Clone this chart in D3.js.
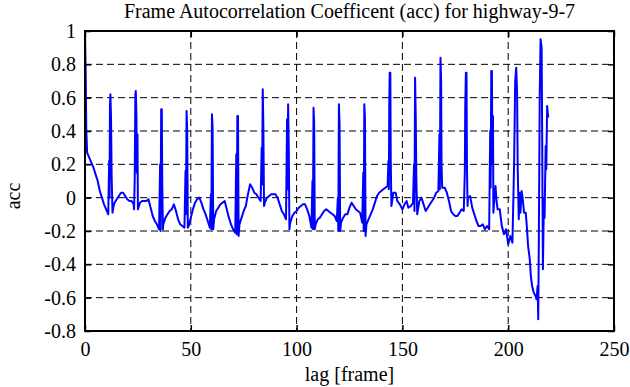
<!DOCTYPE html>
<html>
<head>
<meta charset="utf-8">
<script src="https://cdn.jsdelivr.net/npm/d3@7"></script>
<style>
  body { margin: 0; background: #fff; }
  text { font-family: "Liberation Serif", "Times New Roman", serif; fill: #000; }
</style>
</head>
<body>
<script>
// lag (frames) and autocorrelation
const lags = [
  0, 0.3, 0.6, 1, 2, 3, 4, 5, 6, 7, 8, 9, 10, 11,
  11.4, 11.6, 11.8, 12, 12.3, 12.6, 13,
  13.5, 14, 15, 16, 17, 18, 19, 20, 21, 22, 23, 23.2,
  23.5, 23.8, 24, 24.3, 24.5, 24.8, 25,
  26, 27, 28, 29, 30, 31, 32, 33, 34, 35,
  35.5, 35.7, 36, 36.3, 36.5, 36.8,
  37, 38, 39, 40, 41, 42, 43, 44, 45, 46, 47,
  47.5, 47.7, 48, 48.3, 48.6,
  49, 50, 51, 52, 53, 54, 55, 56, 57, 58, 59,
  59.5, 59.7, 60, 60.3, 60.6,
  61, 62, 63, 64, 65, 66, 67, 68, 69, 70, 71,
  71.5, 71.7, 72, 72.3, 72.6,
  73, 74, 75, 76, 77, 78, 79, 80, 81, 82, 83,
  83.5, 83.7, 84, 84.3, 84.6,
  85, 86, 87, 88, 89, 90, 91, 92, 93, 94, 95,
  95.5, 95.7, 96, 96.3, 96.6,
  97, 98, 99, 100, 101, 102, 103, 104, 105, 106, 107,
  107.5, 107.7, 108, 108.3, 108.6,
  109, 110, 111, 112, 113, 114, 115, 116, 117, 118, 119,
  119.5, 119.7, 120, 120.3, 120.6,
  121, 122, 123, 124, 125, 126, 127, 128, 129, 130, 131,
  131.5, 131.7, 132, 132.3, 132.6,
  133, 134, 135, 136, 137, 138, 139, 140, 141, 142, 143,
  143.4, 143.6, 143.8, 144, 144.3, 144.5, 144.8,
  145.7, 146.8, 147.6, 148.8, 150, 151, 152, 152.8, 154, 155,
  155.5, 155.7, 156, 156.3, 156.6, 157,
  158, 159, 160, 161, 162, 163, 164, 165, 166, 167,
  167.5, 167.7, 168, 168.3, 168.5, 168.8,
  169, 170, 171, 172, 173, 174, 175, 176, 177, 178, 179,
  179.5, 179.7, 180, 180.3, 180.5, 180.8,
  181, 182, 183, 184, 185, 186, 187, 188, 189, 190, 191,
  191.5, 191.7, 192, 192.3, 192.5, 192.8, 193,
  193.5, 194, 194.5, 195, 196, 197, 198, 199, 200, 201, 202,
  202.8, 203.3, 203.8, 204.2, 204.5, 205, 205.3, 205.8, 206.3, 206.8, 207.5, 208.3,
  208.9, 209.4, 210.2, 210.7, 211.3, 212.1, 212.9, 213.4, 213.9, 214.2,
  214.5, 214.9, 215.3, 215.8, 216.1, 216.4, 216.9, 217.2, 217.7, 218, 218.4, 218.9
];
const acc = [
  1.0, 0.77, 0.42, 0.27, 0.24, 0.21, 0.18, 0.14, 0.1, 0.04, 0.0, -0.04, -0.07, -0.1,
  0.22, 0.0, 0.55, 0.62, 0.48, 0.12, -0.09,
  -0.05, -0.03, -0.01, 0.01, 0.03, 0.03, 0.01, -0.01, -0.02, -0.02, -0.04, -0.07,
  0.12, 0.62, 0.64, 0.5, 0.15, 0.38, -0.07,
  -0.03, -0.02, -0.02, -0.02, -0.01, -0.06, -0.11, -0.14, -0.16, -0.19,
  0.2, -0.2, 0.53, 0.53, 0.1, -0.19,
  -0.16, -0.12, -0.1, -0.08, -0.07, -0.04, -0.08, -0.13, -0.16, -0.17, -0.18,
  0.16, -0.1, 0.52, 0.4, -0.18,
  -0.17, -0.12, -0.07, -0.03, -0.01, 0.0, -0.03, -0.07, -0.1, -0.14, -0.18,
  0.02, -0.19, 0.5, 0.42, -0.19,
  -0.13, -0.08, -0.06, -0.04, -0.03, -0.02, -0.07, -0.12, -0.16, -0.19, -0.21,
  0.26, -0.22, 0.49, 0.49, -0.23,
  -0.16, -0.12, -0.08, -0.05, 0.02, 0.08, 0.06, 0.03, 0.02, 0.0, -0.02,
  0.3, 0.08, 0.65, 0.42, -0.05,
  -0.03, 0.0, 0.01, 0.02, 0.02, 0.02, 0.0, -0.04, -0.08, -0.1, -0.13,
  0.47, 0.05, 0.56, 0.3, -0.19,
  -0.15, -0.11, -0.09, -0.08, -0.06, -0.05, -0.04, -0.04, -0.07, -0.11, -0.18,
  0.1, -0.19, 0.54, 0.45, -0.19,
  -0.16, -0.13, -0.12, -0.1, -0.08, -0.07, -0.08, -0.09, -0.1, -0.11, -0.14,
  0.0, -0.2, 0.56, 0.45, -0.2,
  -0.15, -0.12, -0.1, -0.1, -0.06, -0.03, -0.05, -0.07, -0.08, -0.09, -0.15,
  0.15, -0.2, 0.56, 0.48, -0.23,
  -0.16, -0.13, -0.1, -0.07, -0.03, 0.01, 0.03, 0.04, 0.05, 0.06, 0.07,
  0.22, 0.05, 0.57, 0.75, 0.75, 0.22, -0.05,
  0.03, 0.03, -0.02, -0.04, -0.07, -0.04, -0.02, -0.06, -0.05, -0.03,
  0.2, -0.08, 0.72, 0.49, 0.1, -0.1,
  -0.02, 0.0, -0.04, -0.08, -0.06, -0.04, -0.02, 0.0, 0.03, 0.04,
  0.38, 0.05, 0.84, 0.7, 0.2, 0.06,
  0.06, 0.06, 0.03, -0.02, -0.08, -0.1, -0.11, -0.11, -0.09, -0.07, -0.08,
  0.15, 0.55, 0.75, 0.75, 0.2, -0.05,
  0.0, 0.01, -0.06, -0.1, -0.14, -0.17, -0.17, -0.16, -0.19, -0.17, -0.19,
  0.4, 0.06, 0.76, 0.76, 0.2, 0.49, -0.09,
  0.0, 0.07, -0.02, -0.07, -0.07, -0.17, -0.22, -0.19, -0.28, -0.23, -0.27,
  0.21, 0.7, 0.78, 0.63, 0.17, -0.13, 0.03, -0.09, 0.04, 0.0, -0.09, -0.09,
  -0.19, -0.29, -0.37, -0.47, -0.53, -0.57, -0.59, -0.61, -0.53, -0.73,
  -0.21, 0.61, 0.95, 0.9, 0.27, -0.43, 0.0, -0.12, 0.31, 0.17, 0.55, 0.48
];
const xTicks = [0, 50, 100, 150, 200, 250];
const yTicks = [-0.8, -0.6, -0.4, -0.2, 0, 0.2, 0.4, 0.6, 0.8, 1];

const width = 630;
const height = 387;
const margin = { top: 31, right: 16, bottom: 56, left: 85 };
const plotW = width - margin.left - margin.right;
const plotH = height - margin.top - margin.bottom;

const points = lags.map((l, i) => [l, acc[i]]);

const x = d3.scaleLinear().domain([0, 250]).range([0, plotW]);
const y = d3.scaleLinear().domain([-0.8, 1]).range([plotH, 0]);

const svg = d3.select('body').append('svg')
  .attr('width', width)
  .attr('height', height);

svg.append('rect').attr('width', width).attr('height', height).attr('fill', '#fff');

const g = svg.append('g').attr('transform', `translate(${margin.left},${margin.top})`);

// dashed grid
g.append('g').selectAll('line')
  .data(xTicks.slice(1, -1))
  .join('line')
  .attr('x1', d => x(d)).attr('x2', d => x(d))
  .attr('y1', 0).attr('y2', plotH)
  .attr('stroke', '#000').attr('stroke-width', 1)
  .attr('stroke-dasharray', '7,4');

g.append('g').selectAll('line')
  .data(yTicks.slice(1, -1))
  .join('line')
  .attr('x1', 0).attr('x2', plotW)
  .attr('y1', d => y(d)).attr('y2', d => y(d))
  .attr('stroke', '#000').attr('stroke-width', 1)
  .attr('stroke-dasharray', '7,4');

// the series
g.append('path')
  .datum(points)
  .attr('fill', 'none')
  .attr('stroke', '#0000ff')
  .attr('stroke-width', 2)
  .attr('stroke-linejoin', 'round')
  .attr('d', d3.line().x(d => x(d[0])).y(d => y(d[1])));

// axes, ticks pointing inward like matlab
const fmt = d => String(d);
const styleAxis = sel => {
  sel.select('.domain').remove();
  sel.selectAll('.tick line').attr('stroke', '#000').attr('stroke-width', 1.5);
  sel.selectAll('.tick text')
    .style('font-family', '"Liberation Serif", "Times New Roman", serif')
    .style('font-size', '20px')
    .attr('fill', '#000');
};

g.append('g').attr('transform', `translate(0,${plotH})`)
  .call(d3.axisBottom(x).tickValues(xTicks).tickFormat(fmt).tickSize(-6).tickPadding(11))
  .call(styleAxis);

g.append('g')
  .call(d3.axisTop(x).tickValues(xTicks).tickFormat('').tickSize(-6))
  .call(styleAxis);

g.append('g')
  .call(d3.axisLeft(y).tickValues(yTicks).tickFormat(fmt).tickSize(-6).tickPadding(9))
  .call(styleAxis);

g.append('g').attr('transform', `translate(${plotW},0)`)
  .call(d3.axisRight(y).tickValues(yTicks).tickFormat('').tickSize(-6))
  .call(styleAxis);

g.append('rect')
  .attr('width', plotW).attr('height', plotH)
  .attr('fill', 'none').attr('stroke', '#000').attr('stroke-width', 2);

// labels
svg.append('text')
  .attr('x', margin.left + plotW / 2).attr('y', 18)
  .attr('text-anchor', 'middle').style('font-size', '20px')
  .text('Frame Autocorrelation Coefficent (acc) for highway-9-7');

svg.append('text')
  .attr('x', margin.left + plotW / 2).attr('y', 381)
  .attr('text-anchor', 'middle').style('font-size', '20px')
  .text('lag [frame]');

svg.append('text')
  .attr('transform', `translate(20,196) rotate(-90)`)
  .attr('text-anchor', 'middle').style('font-size', '20px')
  .text('acc');
</script>
</body>
</html>
